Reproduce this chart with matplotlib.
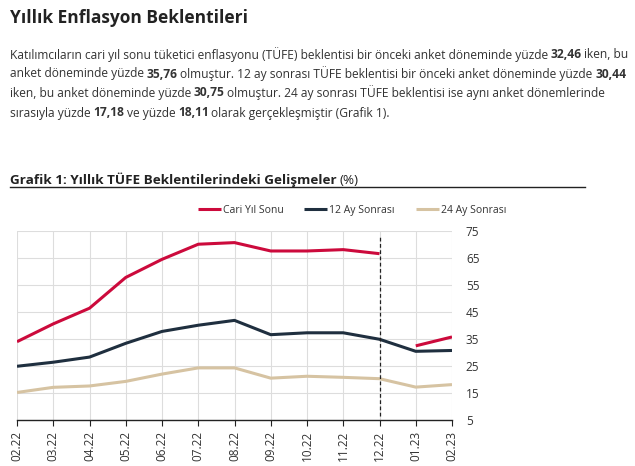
import matplotlib
matplotlib.use('Agg')
import matplotlib.pyplot as plt
import numpy as np

plt.rcParams['font.family'] = ['Open Sans', 'DejaVu Sans']

months = ['02.22', '03.22', '04.22', '05.22', '06.22', '07.22', '08.22',
          '09.22', '10.22', '11.22', '12.22', '01.23', '02.23']
cari_yil = [34.0, 40.6, 46.4, 57.8, 64.5, 70.1, 70.7, 67.6, 67.6, 68.1, 66.6, 32.46, 35.76]
ay12 = [24.9, 26.4, 28.3, 33.4, 37.8, 40.1, 41.9, 36.6, 37.3, 37.3, 34.9, 30.44, 30.75]
ay24 = [15.2, 17.1, 17.6, 19.3, 22.0, 24.3, 24.3, 20.5, 21.2, 20.8, 20.3, 17.18, 18.11]
y_ticks = [5, 15, 25, 35, 45, 55, 65, 75]

RED = '#CC0A3C'
NAVY = '#1F2F3F'
BEIGE = '#D6C3A2'
TXT = '#333333'

fig = plt.figure(figsize=(6.35, 4.66), dpi=100)
W, H = 635, 466


def px(x, y):
    return x / W, 1 - y / H


# title
fig.text(*px(10, 18), 'Yıllık Enflasyon Beklentileri', fontsize=12.5,
         fontweight='bold', color='#222222', va='center')

# paragraph with bold numbers
para = [
    [('Katılımcıların cari yıl sonu tüketici enflasyonu (TÜFE) beklentisi bir önceki anket döneminde yüzde ', False),
     ('32,46', True), (' iken, bu', False)],
    [('anket döneminde yüzde ', False), ('35,76', True),
     (' olmuştur. 12 ay sonrası TÜFE beklentisi bir önceki anket döneminde yüzde ', False), ('30,44', True)],
    [('iken, bu anket döneminde yüzde ', False), ('30,75', True),
     (' olmuştur. 24 ay sonrası TÜFE beklentisi ise aynı anket dönemlerinde', False)],
    [('sırasıyla yüzde ', False), ('17,18', True), (' ve yüzde ', False), ('18,11', True),
     (' olarak gerçekleşmiştir (Grafik 1).', False)],
]
renderer = fig.canvas.get_renderer()
fs = 8.65
gap = 2.6
line_y = [55, 74, 93, 113]
for segs, ly in zip(para, line_y):
    x = 10
    for s, b in segs:
        if s.startswith(' '):
            x += gap
        t = fig.text(*px(x, ly), s.strip(), fontsize=fs, color=TXT, va='center',
                     fontweight='bold' if b else 'normal')
        x += t.get_window_extent(renderer).width
        if s.endswith(' '):
            x += gap

# chart title
t = fig.text(*px(10, 180), 'Grafik 1: Yıllık TÜFE Beklentilerindeki Gelişmeler', fontsize=9.7,
             fontweight='bold', color='#222222', va='center')
w = t.get_window_extent(renderer).width
fig.text(*px(10 + w + 2.5, 180), '(%)', fontsize=9.7, color='#222222', va='center')
fig.add_artist(plt.Line2D([10 / W, 585 / W], [1 - 187 / H] * 2, color='#222222', lw=1))

ax = fig.add_axes([17 / W, 1 - 420 / H, (452 - 17) / W, (420 - 231) / H])
x = np.arange(len(months))
split = 11
ax.plot(x[:split], cari_yil[:split], color=RED, lw=2.2, label='Cari Yıl Sonu',
        solid_capstyle='butt')
ax.plot(x[split:], cari_yil[split:], color=RED, lw=2.2, solid_capstyle='butt')
ax.plot(x, ay12, color=NAVY, lw=2.2, label='12 Ay Sonrası', solid_capstyle='butt')
ax.plot(x, ay24, color=BEIGE, lw=2.2, label='24 Ay Sonrası', solid_capstyle='butt')
ax.plot([10, 10], [6.5, 73.5], color='#222222', lw=0.9, ls=(0, (3, 2)))

ax.set_xlim(0, len(months) - 1)
ax.set_ylim(5, 75)
ax.set_yticks(y_ticks)
ax.set_xticks(x)
ax.set_xticklabels(months, rotation=90)
ax.yaxis.tick_right()
ax.tick_params(axis='y', length=0, pad=10, labelsize=8.5, labelcolor=TXT)
ax.tick_params(axis='x', length=4, width=0.8, color='#222222', labelsize=8.5,
               labelcolor=TXT, pad=4)
ax.grid(True, color='#DDDDDD', lw=0.8)
ax.set_axisbelow(True)
for s in ['top', 'left', 'right']:
    ax.spines[s].set_visible(False)
ax.spines['bottom'].set_color('#222222')
ax.spines['bottom'].set_linewidth(1)

ax.legend(loc='lower center', bbox_to_anchor=(0.77, 1.03), ncol=3, frameon=False,
          fontsize=7.5, handlelength=2.2, handletextpad=0.2, columnspacing=2.0,
          labelcolor=TXT)

fig.savefig('out.png', dpi=100)
